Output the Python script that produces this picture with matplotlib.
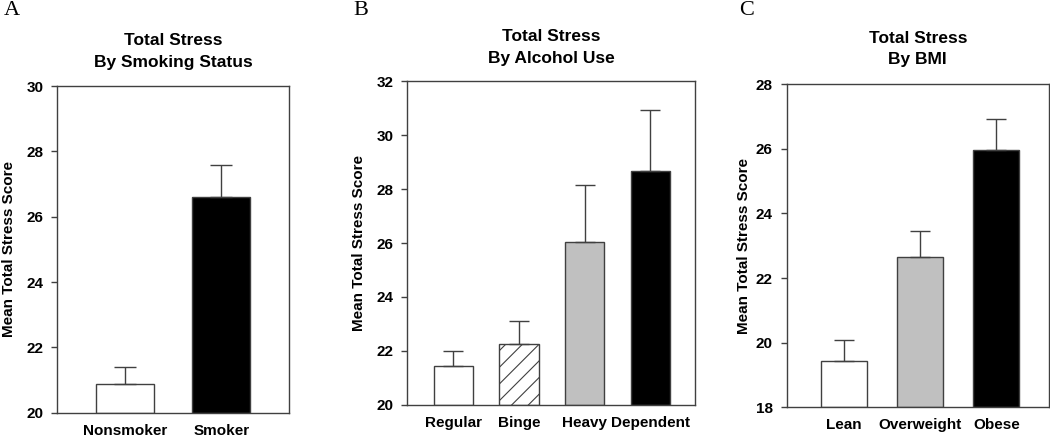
import numpy as np
import matplotlib.pyplot as plt

plt.rcParams['font.family'] = ['Liberation Sans', 'DejaVu Sans']
plt.rcParams['hatch.linewidth'] = 0.8

# Panel A: smoking status
smoke_labels = ['Nonsmoker', 'Smoker']
smoke_means = [20.89, 26.61]
smoke_err = [0.51, 0.96]

# Panel B: alcohol use
alc_labels = ['Regular', 'Binge', 'Heavy', 'Dependent']
alc_means = [21.42, 22.26, 26.03, 28.69]
alc_err = [0.59, 0.84, 2.11, 2.25]

# Panel C: BMI
bmi_labels = ['Lean', 'Overweight', 'Obese']
bmi_means = [19.43, 22.65, 25.98]
bmi_err = [0.64, 0.82, 0.93]

edge = '#404040'
gray = '#c0c0c0'

fig = plt.figure(figsize=(10.5, 4.36), dpi=100)

# axes rects (left, bottom, width, height) in figure fractions
axA = fig.add_axes([0.0546, 0.0534, 0.2206, 0.7493])
axB = fig.add_axes([0.3879, 0.0718, 0.2740, 0.7417])
axC = fig.add_axes([0.7492, 0.0658, 0.2498, 0.7409])


def panel(ax, labels, means, err, colors, hatches, ylim, xlim, title, capsize, labx, tpad):
    x = np.arange(len(labels))
    ax.bar(x, np.array(means) - ylim[0], bottom=ylim[0], width=0.6,
           color=colors, edgecolor=edge, linewidth=1.0, hatch=hatches, zorder=2)
    ax.errorbar(x, means, yerr=[np.zeros(len(err)), err], fmt='none',
                ecolor=edge, elinewidth=1.0, capsize=capsize, capthick=1.0, zorder=3)
    ax.set_ylim(*ylim)
    ax.set_xlim(*xlim)
    ax.set_yticks(np.arange(ylim[0], ylim[1] + 1, 2))
    ax.set_xticks(x)
    ax.set_xticklabels(labels, fontsize=11, fontweight='bold')
    for t in ax.get_yticklabels():
        t.set_fontsize(11)
        t.set_fontweight('bold')
    ax.tick_params(axis='y', direction='out', length=4, width=1, color=edge, pad=6)
    ax.tick_params(axis='x', length=0, pad=8)
    for s in ax.spines.values():
        s.set_color(edge)
        s.set_linewidth(1.0)
    ax.set_title(title, fontsize=12.5, fontweight='bold', pad=tpad, linespacing=1.55)
    ax.set_ylabel('Mean Total Stress Score', fontsize=11, fontweight='bold')
    ax.yaxis.set_label_coords(labx, 0.5)


panel(axA, smoke_labels, smoke_means, smoke_err, ['white', 'black'], [None, None],
      (20, 30), (-0.7, 1.7), 'Total Stress\nBy Smoking Status', 8, -0.178, 14)
panel(axB, alc_labels, alc_means, alc_err, ['white', 'white', gray, 'black'],
      [None, '//', None, None], (20, 32), (-0.7, 3.68),
      'Total Stress\nBy Alcohol Use', 7, -0.1435, 13.5)
panel(axC, bmi_labels, bmi_means, bmi_err, ['white', gray, 'black'], [None, None, None],
      (18, 28), (-0.75, 2.69), 'Total Stress\nBy BMI', 7, -0.136, 14.5)

# panel letters
for xl, letter in [(0.004, 'A'), (0.337, 'B'), (0.704, 'C')]:
    fig.text(xl, 0.975, letter, family=['Liberation Serif', 'DejaVu Serif'],
             fontsize=16, ha='left', va='center')

fig.savefig('out.png', dpi=100)
